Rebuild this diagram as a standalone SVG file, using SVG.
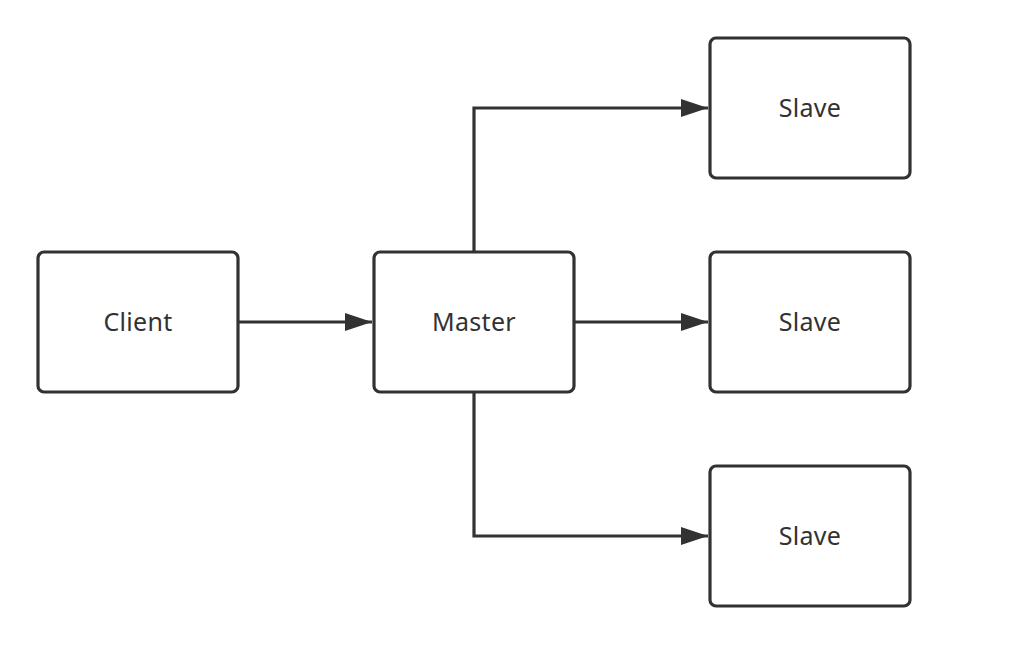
<svg xmlns="http://www.w3.org/2000/svg" width="1018" height="648" viewBox="0 0 1018 648">
<style>
.box{fill:#fff;stroke:#323232;stroke-width:3.2}
.lbl{font-family:"Noto Sans","Liberation Sans",Arial,sans-serif;font-size:25px;fill:#323232;text-anchor:middle;dominant-baseline:central;letter-spacing:0.3px}
.edge{fill:none;stroke:#323232;stroke-width:3.2}
</style>
<defs>
<marker id="arr" markerUnits="userSpaceOnUse" markerWidth="28" markerHeight="20" refX="27" refY="9" orient="auto">
<path d="M0,0 L27,9 L0,18 Z" fill="#323232"/>
</marker>
</defs>
<rect width="1018" height="648" fill="#fff"/>
<g id="connectors">
<path class="edge" d="M238,322 H372" marker-end="url(#arr)"/>
<path class="edge" d="M474,252 V108 H708" marker-end="url(#arr)"/>
<path class="edge" d="M574,322 H708" marker-end="url(#arr)"/>
<path class="edge" d="M474,392 V536 H708" marker-end="url(#arr)"/>
</g>
<g id="client"><rect class="box" x="38" y="252" width="200" height="140" rx="6"/><text class="lbl" x="138" y="321">Client</text></g>
<g id="master"><rect class="box" x="374" y="252" width="200" height="140" rx="6"/><text class="lbl" x="474" y="321">Master</text></g>
<g id="slave1"><rect class="box" x="710" y="38" width="200" height="140" rx="6"/><text class="lbl" x="810" y="107">Slave</text></g>
<g id="slave2"><rect class="box" x="710" y="252" width="200" height="140" rx="6"/><text class="lbl" x="810" y="321">Slave</text></g>
<g id="slave3"><rect class="box" x="710" y="466" width="200" height="140" rx="6"/><text class="lbl" x="810" y="535">Slave</text></g>
</svg>
